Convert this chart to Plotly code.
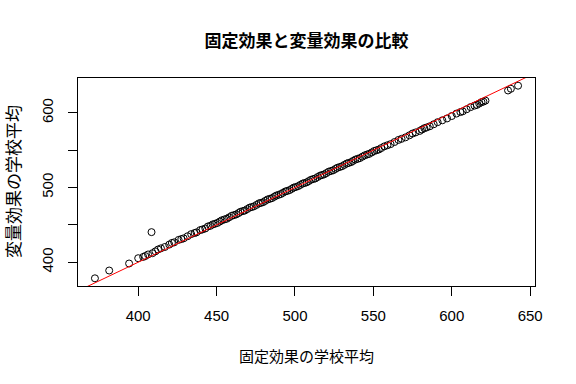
import plotly.graph_objects as go

# 固定効果 (x) と 変量効果 (y) の学校平均
fixed_means = [
    372.4, 381.5, 394.2, 400.0, 403.2, 404.5, 406.3, 408.5, 409.1, 411.0,
    412.7, 414.5, 417.0, 419.8, 421.5, 423.0, 425.8, 427.5, 429.0, 431.5,
    433.8, 436.0, 437.2, 439.5, 441.0, 442.8, 444.5, 446.0, 447.5, 449.0,
    450.5, 452.0, 453.3, 455.0, 456.5, 458.0, 459.6, 461.0, 462.5, 464.0,
    465.2, 466.8, 468.0, 469.5, 471.0, 472.4, 473.8, 475.5, 477.0, 478.2,
    479.6, 481.0, 482.5, 484.0, 485.3, 486.8, 488.0, 489.5, 491.0, 492.3,
    493.8, 495.0, 496.5, 498.0, 499.2, 500.5, 502.0, 503.4, 504.8, 506.0,
    507.5, 508.8, 510.2, 511.6, 513.0, 514.5, 516.0, 517.2, 518.6, 520.0,
    521.5, 523.0, 524.4, 525.8, 527.0, 528.6, 530.0, 531.5, 533.0, 534.2,
    535.8, 537.0, 538.5, 540.0, 541.4, 543.0, 544.5, 546.0, 547.3, 549.0,
    550.5, 552.0, 553.5, 555.0, 557.0, 559.0, 561.0, 563.5, 566.0, 568.0,
    570.5, 573.0, 575.0, 577.0, 579.5, 581.0, 582.5, 584.0, 586.0, 588.5,
    591.0, 594.0, 597.0, 600.0, 603.0, 605.5, 607.0, 609.5, 612.0, 614.5,
    616.0, 617.5, 619.0, 620.2, 621.5, 635.9, 637.7, 642.3,
]
random_means = [
    378.5, 388.9, 398.3, 405.4, 407.1, 408.3, 410.4, 440.3, 412.1, 414.6,
    417.1, 418.6, 420.4, 423.6, 425.8, 426.7, 429.9, 431.0, 432.0, 434.8,
    437.6, 439.1, 440.0, 443.0, 443.9, 445.2, 447.9, 448.7, 450.6, 451.5,
    452.6, 454.4, 456.1, 457.3, 458.2, 460.1, 462.1, 463.0, 464.0, 465.8,
    467.5, 468.5, 469.2, 471.1, 473.0, 473.9, 474.8, 476.8, 478.8, 479.4,
    480.3, 482.1, 484.0, 484.9, 485.8, 487.6, 489.2, 490.2, 491.3, 492.9,
    494.7, 495.4, 496.5, 498.3, 499.9, 500.7, 501.8, 503.5, 505.2, 506.0,
    507.0, 508.6, 510.4, 511.3, 512.2, 514.1, 515.9, 516.7, 517.6, 519.3,
    521.2, 522.2, 523.1, 524.9, 526.4, 527.5, 528.5, 530.3, 532.1, 532.9,
    534.0, 535.6, 537.4, 538.4, 539.4, 541.3, 543.1, 544.2, 545.0, 547.0,
    548.9, 549.9, 550.9, 552.8, 555.1, 556.6, 558.1, 560.9, 563.7, 565.2,
    567.2, 569.9, 572.3, 573.8, 575.7, 577.6, 579.4, 580.4, 582.0, 584.7,
    587.5, 590.0, 592.5, 595.7, 599.0, 601.0, 602.0, 604.8, 607.6, 609.6,
    610.6, 612.4, 614.3, 615.0, 616.3, 629.9, 632.2, 636.3,
]
x_ticks = [400, 450, 500, 550, 600, 650]
y_ticks = [400, 450, 500, 550, 600]
y_tick_text = ["400", "", "500", "", "600"]
abline = (0.0, 1.0)  # intercept, slope

title = "固定効果と変量効果の比較"
x_title = "固定効果の学校平均"
y_title = "変量効果の学校平均"

def ext(vals):
    lo, hi = min(vals), max(vals)
    d = (hi - lo) * 0.04
    return [lo - d, hi + d]

xr = ext(fixed_means)
yr = ext(random_means)

fig = go.Figure()
fig.add_trace(go.Scatter(
    x=fixed_means, y=random_means, mode="markers",
    marker=dict(symbol="circle-open", size=7, color="black", line=dict(width=1, color="black")),
    showlegend=False, hoverinfo="skip",
))
lx = [xr[0] - 20, xr[1] + 20]
fig.add_trace(go.Scatter(
    x=lx, y=[abline[0] + abline[1] * v for v in lx], mode="lines",
    line=dict(color="red", width=1), showlegend=False, hoverinfo="skip",
))

tick_font = dict(family="Liberation Sans, Arial, sans-serif", size=15, color="black")
cjk = "Noto Sans CJK JP, sans-serif"

fig.update_layout(
    width=576, height=384,
    margin=dict(l=78, r=41, t=78, b=98),
    paper_bgcolor="white", plot_bgcolor="white",
    title=dict(text=title, x=0.5, xref="paper", y=1 - 41 / 384, yref="container",
               yanchor="middle", xanchor="center",
               font=dict(family=cjk, size=17, color="black", weight="bold")),
    xaxis=dict(range=xr, tickvals=x_ticks, ticks="outside", ticklen=9, tickwidth=1,
               tickcolor="black", showline=True, linecolor="black", linewidth=1,
               mirror=True, showgrid=False, zeroline=False, tickfont=tick_font,
               ticklabelstandoff=7),
    yaxis=dict(range=yr, tickvals=y_ticks, ticktext=y_tick_text, ticks="outside",
               ticklen=9, tickwidth=1, tickcolor="black", tickangle=-90,
               showline=True, linecolor="black", linewidth=1, mirror=True,
               showgrid=False, zeroline=False, tickfont=tick_font,
               ticklabelstandoff=9),
    annotations=[
        dict(text=x_title, xref="paper", yref="paper", x=0.5, y=0, yanchor="middle",
             xanchor="center", yshift=-69, showarrow=False,
             font=dict(family=cjk, size=15, color="black")),
        dict(text=y_title, xref="paper", yref="paper", x=0, y=0.5, xanchor="center",
             yanchor="middle", xshift=-66, textangle=-90, showarrow=False,
             font=dict(family=cjk, size=17, color="black")),
    ],
)

fig.write_html("out.html")
